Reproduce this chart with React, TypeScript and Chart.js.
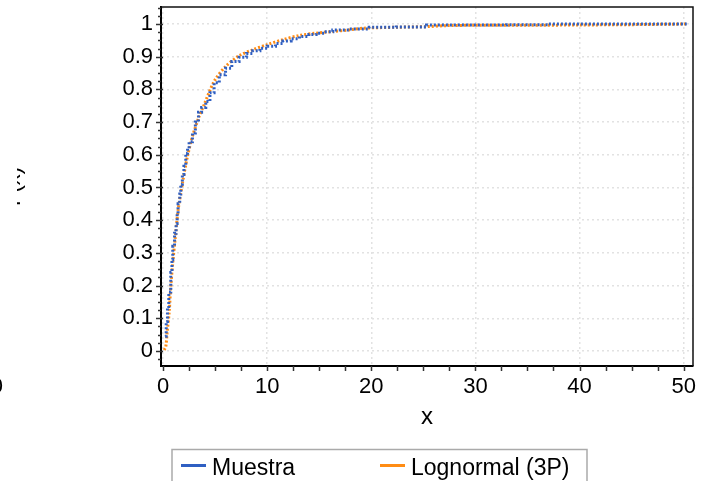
import React, { useEffect, useRef } from 'react';
import { Chart, registerables } from 'chart.js';

Chart.register(...registerables);

// ---- data ----
const seriesLabels = ['Muestra', 'Lognormal (3P)'];

const muestraX = [0.2, 0.3, 0.42, 0.55, 0.74, 0.85, 0.93, 1.1, 1.25, 1.35, 1.44, 1.6, 1.7, 1.85, 2.0, 2.18, 2.35, 2.5, 2.82, 3.1, 3.4, 3.7, 4.1, 4.5, 4.9, 5.4, 6.0, 6.6, 7.3, 8.0, 8.6, 9.3, 10.0, 10.8, 11.5, 12.3, 13.1, 14.0, 14.7, 15.5, 16.3, 17.9, 19.8, 22.4, 25.3, 29.0, 33.0, 37.0, 50.3];
const muestraY = [0.045, 0.09, 0.13, 0.18, 0.24, 0.28, 0.32, 0.36, 0.39, 0.42, 0.45, 0.48, 0.51, 0.54, 0.565, 0.605, 0.62, 0.64, 0.667, 0.7, 0.73, 0.745, 0.763, 0.79, 0.82, 0.845, 0.865, 0.885, 0.898, 0.91, 0.918, 0.926, 0.932, 0.94, 0.948, 0.955, 0.962, 0.968, 0.972, 0.976, 0.982, 0.985, 0.99, 0.991, 0.997, 0.997, 0.998, 1.0, 1.0];

const lognormX = [0.1, 0.26, 0.4, 0.58, 0.74, 0.96, 1.15, 1.44, 1.86, 2.34, 2.82, 3.46, 3.94, 4.9, 6.0, 7.3, 8.6, 10.0, 11.5, 13.1, 14.7, 16.3, 17.9, 19.2, 22.4, 25.3, 27.2, 30.0, 35.0, 40.0, 45.0, 50.3];
const lognormY = [0.003, 0.013, 0.06, 0.116, 0.197, 0.28, 0.34, 0.43, 0.513, 0.595, 0.656, 0.717, 0.753, 0.824, 0.87, 0.903, 0.921, 0.937, 0.952, 0.965, 0.972, 0.977, 0.982, 0.987, 0.99, 0.992, 0.995, 0.996, 0.996, 0.997, 0.998, 1.0];

const xTicks = [0, 10, 20, 30, 40, 50];
const yTicks = [0, 0.1, 0.2, 0.3, 0.4, 0.5, 0.6, 0.7, 0.8, 0.9, 1];
const xTitle = 'x';
const yTitle = 'F(x)';

// ---- styling ----
const FONT = "'Liberation Sans', Arial, Helvetica, sans-serif";
const BLUE = '#2F5FC2';
const ORANGE = '#FF8C14';

const decor = {
  id: 'decor',
  beforeDraw(chart: any) {
    const { ctx, width, height } = chart;
    ctx.save();
    ctx.fillStyle = '#ffffff';
    ctx.fillRect(0, 0, width, height);
    ctx.restore();
  },
  afterDraw(chart: any) {
    const { ctx, chartArea: a } = chart;
    const xs = chart.scales.x;
    const ys = chart.scales.y;
    ctx.save();
    // top & right frame
    ctx.strokeStyle = '#111';
    ctx.lineWidth = 1.5;
    ctx.beginPath();
    ctx.moveTo(a.left, a.top);
    ctx.lineTo(a.right, a.top);
    ctx.lineTo(a.right, a.bottom);
    ctx.stroke();

    // x ticks (major + minor every 2.5)
    ctx.strokeStyle = '#333';
    ctx.lineWidth = 1.5;
    for (let i = 0; i <= 20; i++) {
      const v = i * 2.5;
      if (v > xs.max) continue;
      const px = Math.round(xs.getPixelForValue(v)) + 0.5;
      ctx.beginPath();
      ctx.moveTo(px, a.bottom);
      ctx.lineTo(px, a.bottom + 5);
      ctx.stroke();
    }
    // y ticks (major + minor every 0.025)
    for (let i = -2; i <= 44; i++) {
      const v = i * 0.025;
      if (v < ys.min || v > ys.max) continue;
      const py = Math.round(ys.getPixelForValue(v)) + 0.5;
      const major = i % 4 === 0;
      ctx.beginPath();
      ctx.moveTo(a.left + (major ? 2 : 0), py);
      ctx.lineTo(a.left - (major ? 5 : 3), py);
      ctx.stroke();
    }

    // crop of the y title as in reference
    ctx.fillStyle = '#ffffff';
    ctx.fillRect(0, a.top + 100, 17, 170);

    // stray cropped label at left edge
    ctx.fillStyle = '#000';
    ctx.font = `22px ${FONT}`;
    ctx.textAlign = 'right';
    ctx.textBaseline = 'middle';
    ctx.fillText('0', 3, 387);

    // legend box
    const ds = chart.data.datasets;
    const boxL = 172, boxT = 449.5, boxR = 587;
    ctx.strokeStyle = '#aaaaaa';
    ctx.lineWidth = 1.5;
    ctx.strokeRect(boxL, boxT, boxR - boxL, 60);
    const itemX = [181, 380];
    ctx.textAlign = 'left';
    ctx.textBaseline = 'alphabetic';
    ctx.font = `23px ${FONT}`;
    ds.forEach((d: any, i: number) => {
      const lx = itemX[i];
      ctx.strokeStyle = d.borderColor;
      ctx.lineWidth = 3;
      ctx.beginPath();
      ctx.moveTo(lx, 465.5);
      ctx.lineTo(lx + 25, 465.5);
      ctx.stroke();
      ctx.fillStyle = '#000';
      ctx.fillText(d.label, lx + 31, 475);
    });
    ctx.restore();
  },
};

export default function App() {
  const ref = useRef<HTMLCanvasElement | null>(null);

  useEffect(() => {
    if (!ref.current) return;
    Chart.defaults.font.family = FONT;
    Chart.defaults.color = '#000';
    const chart = new Chart(ref.current, {
      type: 'line',
      data: {
        datasets: [
          {
            label: seriesLabels[0],
            data: muestraX.map((x, i) => ({ x, y: muestraY[i] })),
            borderColor: BLUE,
            backgroundColor: BLUE,
            borderWidth: 3,
            borderDash: [2, 2],
            pointRadius: 0,
            stepped: true,
            fill: false,
          },
          {
            label: seriesLabels[1],
            data: lognormX.map((x, i) => ({ x, y: lognormY[i] })),
            borderColor: ORANGE,
            backgroundColor: ORANGE,
            borderWidth: 3,
            borderDash: [2, 2],
            pointRadius: 0,
            tension: 0.3,
            fill: false,
          },
        ],
      },
      options: {
        animation: false,
        responsive: false,
        maintainAspectRatio: false,
        layout: { padding: { left: 0, right: 17, top: 7, bottom: 0 } },
        plugins: { legend: { display: false }, tooltip: { enabled: false } },
        scales: {
          x: {
            type: 'linear',
            min: -0.2,
            max: 50.9,
            afterFit: (s: any) => {
              s.height = 115;
              s.paddingLeft = 0;
              s.paddingRight = 0;
            },
            afterBuildTicks: (s: any) => { s.ticks = xTicks.map((v) => ({ value: v })); },
            ticks: {
              font: { size: 22, family: FONT },
              color: '#000',
              padding: 8,
              maxRotation: 0,
              autoSkip: false,
              callback: (v: any) => String(v),
            },
            grid: { color: '#e2e2e2', lineWidth: 1.5, drawTicks: false },
            border: { display: true, color: '#000', width: 2, dash: [2, 3] },
            title: {
              display: true,
              text: xTitle,
              font: { size: 24, family: FONT },
              color: '#000',
              padding: { top: 0, bottom: 49 },
            },
          },
          y: {
            type: 'linear',
            min: -0.046,
            max: 1.052,
            afterFit: (s: any) => {
              s.width = 161;
              s.paddingTop = 0;
              s.paddingBottom = 0;
            },
            afterBuildTicks: (s: any) => { s.ticks = yTicks.map((v) => ({ value: v })); },
            ticks: {
              font: { size: 22, family: FONT },
              color: '#000',
              padding: 8,
              autoSkip: false,
              callback: (v: any) => String(Math.round(Number(v) * 10) / 10),
            },
            grid: { color: '#e2e2e2', lineWidth: 1.5, drawTicks: false },
            border: { display: true, color: '#000', width: 2, dash: [2, 3] },
            title: {
              display: true,
              text: yTitle,
              font: { size: 22, family: FONT },
              color: '#000',
              padding: { top: 1, bottom: 0 },
            },
          },
        },
      },
      plugins: [decor],
    } as any);
    return () => chart.destroy();
  }, []);

  return (
    <div style={{ position: 'absolute', left: 0, top: 0, width: 710, height: 481 }}>
      <canvas ref={ref} width={710} height={481} style={{ display: 'block', width: 710, height: 481 }} />
    </div>
  );
}
